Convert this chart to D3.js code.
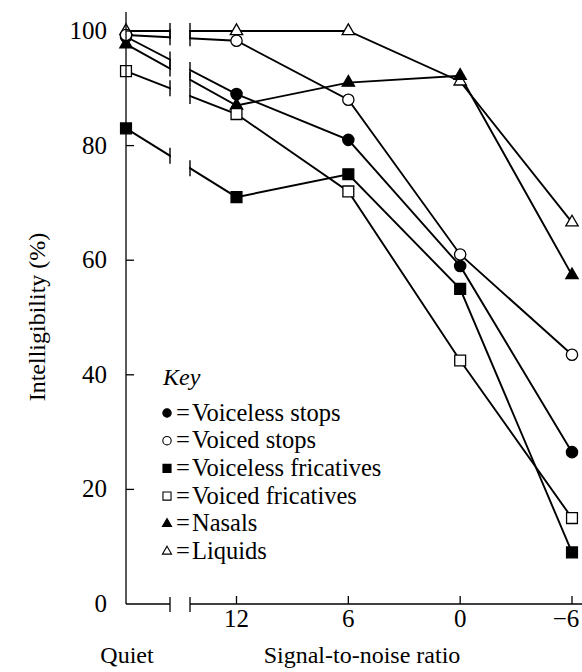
<!DOCTYPE html>
<html>
<head>
<meta charset="utf-8">
<script src="https://cdn.jsdelivr.net/npm/d3@7"></script>
<style>
  body { margin: 0; background: #fff; }
</style>
</head>
<body>
<div id="chart"></div>
<script>
// values: [Quiet, 12, 6, 0, -6]
const snrLevels = [12, 6, 0, -6];
const yTicks = [0, 20, 40, 60, 80, 100];
const voicelessStops = [99, 89, 81, 59, 26.5];
const voicedStops = [99.3, 98.3, 88, 61, 43.5];
const voicelessFricatives = [83, 71, 75, 55, 9];
const voicedFricatives = [93, 85.5, 72, 42.5, 15];
const nasals = [97.7, 87, 91, 92.2, 57.4];
const liquids = [100, 100, 100, 91.2, 66.6];

const series = [
  { name: "Voiceless stops", values: voicelessStops, type: d3.symbolCircle, filled: true, z: 2 },
  { name: "Voiced stops", values: voicedStops, type: d3.symbolCircle, filled: false, z: 5 },
  { name: "Voiceless fricatives", values: voicelessFricatives, type: d3.symbolSquare, filled: true, z: 4 },
  { name: "Voiced fricatives", values: voicedFricatives, type: d3.symbolSquare, filled: false, z: 3 },
  { name: "Nasals", values: nasals, type: d3.symbolTriangle, filled: true, z: 1 },
  { name: "Liquids", values: liquids, type: d3.symbolTriangle, filled: false, z: 0 }
];

const W = 582, H = 672;
const axisX = 126, axisY = 604;
const gapL = 170, gapR = 190;
const FONT = "'Liberation Serif', 'Times New Roman', 'DejaVu Serif', serif";

const svg = d3.select("#chart").append("svg")
  .attr("width", W).attr("height", H)
  .attr("font-family", FONT);

const y = d3.scaleLinear().domain([0, 100]).range([axisY, 31]);
const xSnr = d3.scaleLinear().domain([12, -6]).range([236.5, 572]);
const xAt = i => i === 0 ? axisX : xSnr(snrLevels[i - 1]);

const markSize = { circle: 100, square: 118, triangle: 66 };
const sizeOf = (t, k) => k * (t === d3.symbolCircle ? markSize.circle : t === d3.symbolSquare ? markSize.square : markSize.triangle);

// lines
const line = d3.line().x((d, i) => xAt(i)).y(d => y(d));
const plot = svg.append("g");
series.forEach(s => {
  plot.append("path")
    .attr("d", line(s.values))
    .attr("fill", "none")
    .attr("stroke", "#000")
    .attr("stroke-width", 1.9);
});

// break in the lines
plot.append("rect")
  .attr("x", gapL + 0.8).attr("y", 0)
  .attr("width", gapR - gapL - 1.6).attr("height", axisY - 6)
  .attr("fill", "#fff");

series.forEach(s => {
  const y0 = y(s.values[0]), y1 = y(s.values[1]);
  const x1 = xAt(1);
  [gapL, gapR].forEach(gx => {
    const gy = y0 + (y1 - y0) * (gx - axisX) / (x1 - axisX);
    plot.append("line")
      .attr("x1", gx).attr("x2", gx)
      .attr("y1", gy - 8).attr("y2", gy + 8)
      .attr("stroke", "#000").attr("stroke-width", 1.4);
  });
});

// markers
series.slice().sort((a, b) => a.z - b.z).forEach(s => {
  plot.selectAll(null)
    .data(s.values)
    .join("path")
    .attr("transform", (d, i) => `translate(${xAt(i)},${y(d)})`)
    .attr("d", d3.symbol().type(s.type).size(sizeOf(s.type, 1)))
    .attr("fill", s.filled ? "#000" : "#fff")
    .attr("stroke", "#000")
    .attr("stroke-width", 1.3);
});

// y axis
const ax = svg.append("g");
ax.append("line")
  .attr("x1", axisX).attr("x2", axisX)
  .attr("y1", 12).attr("y2", axisY)
  .attr("stroke", "#000").attr("stroke-width", 1.3);
yTicks.forEach(t => {
  if (t > 0) {
    ax.append("line")
      .attr("x1", axisX).attr("x2", axisX + 8)
      .attr("y1", y(t)).attr("y2", y(t))
      .attr("stroke", "#000").attr("stroke-width", 1.3);
  }
  ax.append("text")
    .attr("x", 107).attr("y", y(t) + 8)
    .attr("text-anchor", "end")
    .attr("font-size", 25)
    .text(t);
});

// x axis with break
ax.append("line")
  .attr("x1", axisX).attr("x2", gapL)
  .attr("y1", axisY).attr("y2", axisY)
  .attr("stroke", "#000").attr("stroke-width", 1.3);
ax.append("line")
  .attr("x1", gapR).attr("x2", W)
  .attr("y1", axisY).attr("y2", axisY)
  .attr("stroke", "#000").attr("stroke-width", 1.3);
[gapL, gapR].forEach(gx => {
  ax.append("line")
    .attr("x1", gx).attr("x2", gx)
    .attr("y1", axisY - 7).attr("y2", axisY + 8)
    .attr("stroke", "#000").attr("stroke-width", 1.3);
});
snrLevels.forEach(v => {
  ax.append("line")
    .attr("x1", xSnr(v)).attr("x2", xSnr(v))
    .attr("y1", axisY).attr("y2", axisY - 8)
    .attr("stroke", "#000").attr("stroke-width", 1.3);
  ax.append("text")
    .attr("x", xSnr(v) + (v < 0 ? -6 : 0)).attr("y", 627)
    .attr("text-anchor", "middle")
    .attr("font-size", 25)
    .text(v < 0 ? "\u2212" + Math.abs(v) : v);
});

svg.append("text")
  .attr("x", 127).attr("y", 663)
  .attr("text-anchor", "middle")
  .attr("font-size", 24)
  .text("Quiet");
svg.append("text")
  .attr("x", 362).attr("y", 663)
  .attr("text-anchor", "middle")
  .attr("font-size", 24)
  .text("Signal-to-noise ratio");
svg.append("text")
  .attr("transform", "translate(45,317) rotate(-90)")
  .attr("text-anchor", "middle")
  .attr("font-size", 24)
  .text("Intelligibility (%)");

// key
const key = svg.append("g");
key.append("text")
  .attr("x", 163).attr("y", 385)
  .attr("font-size", 24)
  .attr("font-style", "italic")
  .text("Key");
series.forEach((s, i) => {
  const cy = 413 + i * 27.7;
  key.append("path")
    .attr("transform", `translate(167,${cy})`)
    .attr("d", d3.symbol().type(s.type).size(sizeOf(s.type, 0.55)))
    .attr("fill", s.filled ? "#000" : "#fff")
    .attr("stroke", "#000")
    .attr("stroke-width", 1.1);
  key.append("text")
    .attr("x", 176).attr("y", cy + 7.5)
    .attr("font-size", 24.5)
    .text("=");
  key.append("text")
    .attr("x", 192).attr("y", cy + 7.5)
    .attr("font-size", 24.5)
    .text(s.name);
});
</script>
</body>
</html>
